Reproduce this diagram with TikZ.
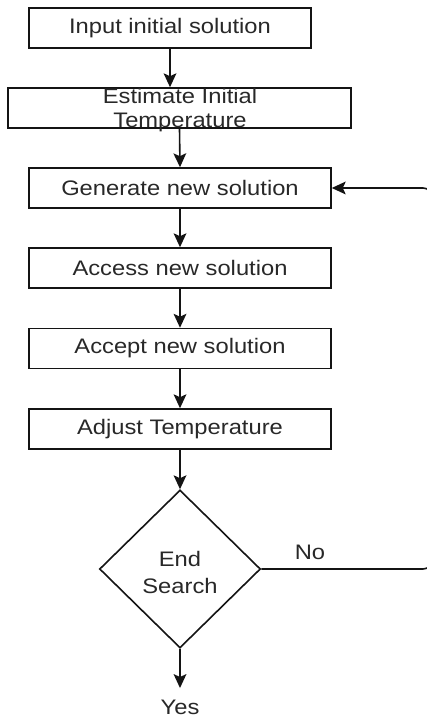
\documentclass[tikz,border=0pt]{standalone}
\usepackage{fontspec}
\setmainfont{Liberation Sans}
\usetikzlibrary{shapes.geometric,arrows.meta}
\definecolor{ink}{RGB}{20,20,20}
\definecolor{txt}{RGB}{40,40,40}
\newcommand{\wtext}[1]{\scalebox{1.13}[1]{#1}}
\tikzset{
  every node/.style={font=\fontsize{21}{24}\selectfont, text=txt},
  stepbox/.style={draw=ink, line width=1.6pt, rectangle, minimum height=40pt, inner sep=0pt},
  decision/.style={draw=ink, line width=1.6pt, diamond, minimum width=161pt, minimum height=158pt, inner sep=0pt},
  flow/.style={draw=ink, line width=1.6pt, -{Stealth[length=14pt,width=13pt,inset=3pt,line width=0pt]}},
}
\begin{document}
\begin{tikzpicture}[x=1pt,y=-1pt]
\useasboundingbox (0,0) rectangle (427,727);
\fill[white] (0,0) rectangle (427,727);

\node[stepbox, minimum width=282pt] (input) at (170,28) {\wtext{Input initial solution}};
\node[stepbox, minimum width=343pt] (estimate) at (179.5,108) {};
\node[align=center, inner sep=0pt] (estimatetext) at (180,110) {\wtext{Estimate Initial}\\\wtext{Temperature}};
\node[stepbox, minimum width=302pt] (generate) at (180,188) {\wtext{Generate new solution}};
\node[stepbox, minimum width=302pt] (access) at (180,268) {\wtext{Access new solution}};
\node[stepbox, minimum width=302pt] (accept) at (180,348.5) {\wtext{Accept new solution}};
\node[stepbox, minimum width=302pt] (adjust) at (180,429) {\wtext{Adjust Temperature}};
\node[decision] (endsearch) at (180,569) {};
\node[align=center, inner sep=0pt, font=\fontsize{21}{27}\selectfont] (endtext) at (180,572) {\wtext{End}\\\wtext{Search}};
\node[inner sep=0pt, anchor=north] (yes) at (180,700) {\wtext{Yes}};
\node[inner sep=0pt] (no) at (310,552) {\wtext{No}};
\coordinate (loopbottom) at (432,569);
\coordinate (looptop) at (432,188);

\draw[flow] (input.south) -- (input.south |- estimate.north);
\draw[flow] (estimate.south) -- (generate.north);
\draw[flow] (generate) -- (access);
\draw[flow] (access) -- (accept);
\draw[flow] (accept) -- (adjust);
\draw[flow] (adjust) -- (endsearch.north);
\draw[flow] (endsearch.south) -- ([yshift=12pt]yes.north);
\draw[flow, rounded corners=9pt] (endsearch.east) -- (loopbottom) -- (looptop) -- (generate.east);
\end{tikzpicture}
\end{document}
